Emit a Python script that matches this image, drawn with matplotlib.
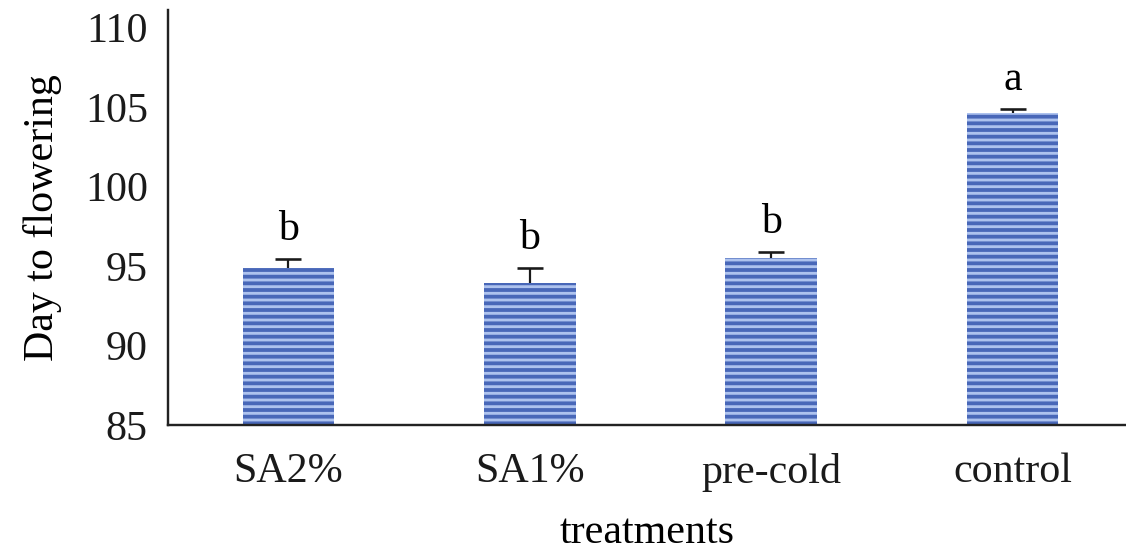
import matplotlib
matplotlib.use("Agg")
import matplotlib.pyplot as plt
import numpy as np

categories = ["SA2%", "SA1%", "pre-cold", "control"]
values = [94.9, 93.9, 95.5, 104.6]
errors = [0.55, 1.0, 0.4, 0.3]
letters = ["b", "b", "b", "a"]
yticks = [85, 90, 95, 100, 105, 110]

DPI = 120
def pt(px):
    return px * 72.0 / DPI

plt.rcParams['font.family'] = ['Liberation Serif', 'DejaVu Serif']
plt.rcParams['hatch.linewidth'] = pt(3.8)

fig = plt.figure(figsize=(1126 / DPI, 554 / DPI), dpi=DPI)
ax = fig.add_axes([0.149, 0.233, 0.851, 0.749])

FS = pt(42)
x = np.arange(len(categories))
tops = [v + e for v, e in zip(values, errors)]
ax.bar(x, [v - 85 for v in values], bottom=85, width=0.38,
       color='#adc2ee', edgecolor='#4867b8', linewidth=0, hatch='---')
ax.vlines(x, values, tops, color='#1a1a1a', linewidth=pt(2.2))
ax.plot(x, tops, linestyle='none', marker='_', markersize=pt(26),
        markeredgewidth=pt(2.6), color='#1a1a1a')

for xi, t, l in zip(x, tops, letters):
    ax.annotate(l, (xi, t), xytext=(0, pt(10)), textcoords='offset points',
                ha='center', va='bottom', fontsize=FS)

ax.set_ylim(85, 111.1)
ax.set_xlim(-0.5, 3.47)
ax.set_yticks(yticks)
ax.set_xticks(x)
ax.set_xticklabels(categories)
ax.tick_params(axis='both', length=0, labelsize=FS, colors='#1a1a1a')
ax.tick_params(axis='y', pad=pt(20))
ax.tick_params(axis='x', pad=pt(28))
for s in ['top', 'right']:
    ax.spines[s].set_visible(False)
for s in ['left', 'bottom']:
    ax.spines[s].set_linewidth(pt(2.4))
    ax.spines[s].set_color('#222222')

ax.set_ylabel("Day to flowering", fontsize=FS, labelpad=pt(23))
ax.set_xlabel("treatments", fontsize=FS, labelpad=pt(22))

fig.savefig("out.png", dpi=DPI)
